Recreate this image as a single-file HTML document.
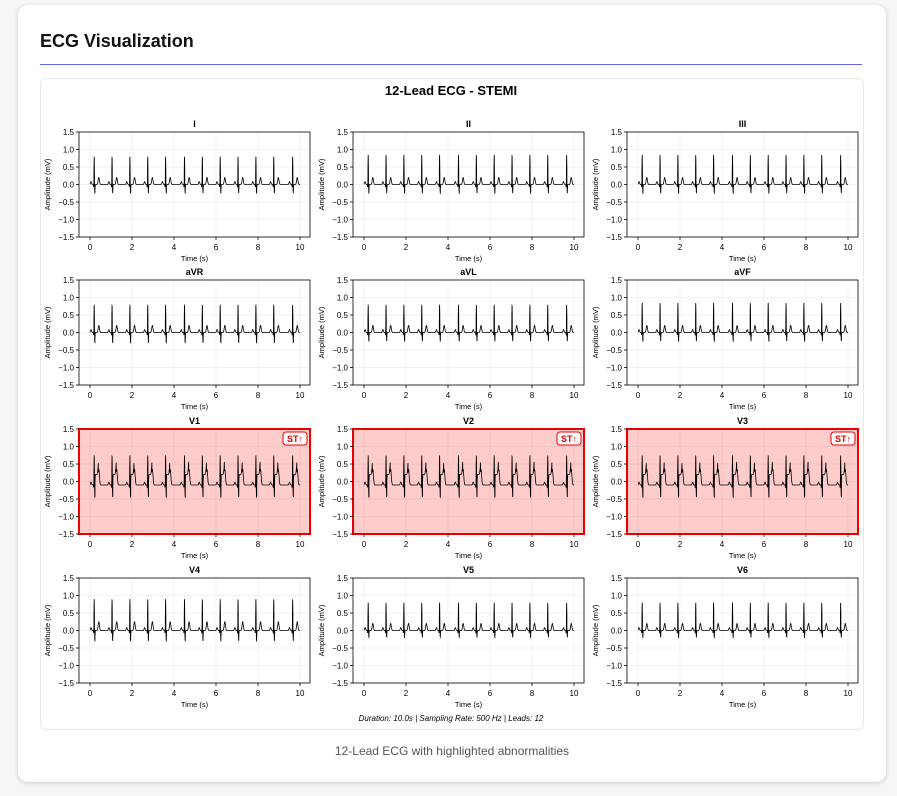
<!DOCTYPE html>
<html><head><meta charset="utf-8">
<style>
body{margin:0;background:#f5f5f6;font-family:"Liberation Sans",sans-serif;}
.card{position:absolute;left:18px;top:5px;width:868px;height:777px;background:#fff;border-radius:10px;box-shadow:0 1px 4px rgba(0,0,0,.18);}
h2{position:absolute;left:22px;top:26px;margin:0;font-size:18px;font-weight:bold;color:#111;}
.rule{position:absolute;left:22px;top:59px;width:822px;height:1px;background:#6366f1;}
.fig{position:absolute;left:22px;top:73px;width:822px;height:650px;border:1px solid #e5e7eb;border-radius:6px;background:#fff;}
.cap{position:absolute;left:0;width:868px;top:739px;text-align:center;font-size:12px;color:#555;}
</style></head><body>
<div class="card">
<h2>ECG Visualization</h2>
<div class="rule"></div>
<div class="fig"></div>
<div class="cap">12-Lead ECG with highlighted abnormalities</div>
</div>
<svg id="chart" width="897" height="796" style="position:absolute;left:0;top:0"></svg>
<script>
const leads=["I","II","III","aVR","aVL","aVF","V1","V2","V3","V4","V5","V6"];
const rAmp=[0.8,0.85,0.85,0.8,0.8,0.85,0.85,0.85,0.85,0.9,0.8,0.8];
const sAmp=[-0.25,-0.25,-0.25,-0.3,-0.25,-0.25,-0.35,-0.35,-0.35,-0.3,-0.2,-0.2];
const tAmp=[0.2,0.2,0.2,0.2,0.2,0.2,0.45,0.45,0.45,0.25,0.2,0.2];
const stElev=[0,0,0,0,0,0,0.3,0.3,0.3,0,0,0];
const baseline=[0,0,0,0,0,0,-0.1,-0.1,-0.1,0,0,0];
const abnormal=[false,false,false,false,false,false,true,true,true,false,false,false];
const beatTimes=[0.2,1.05,1.9,2.75,3.6,4.5,5.35,6.2,7.05,7.9,8.75,9.65];
const xTicks=[0,2,4,6,8,10];
const yTicks=[1.5,1.0,0.5,0.0,-0.5,-1.0,-1.5];
const yLabels=["1.5","1.0","0.5","0.0","\u22120.5","\u22121.0","\u22121.5"];

const NS="http://www.w3.org/2000/svg";
const svg=document.getElementById("chart");
function mk(tag,attrs,parent){const e=document.createElementNS(NS,tag);for(const k in attrs)e.setAttribute(k,attrs[k]);(parent||svg).appendChild(e);return e;}
const colX=[79,353,627],rowY=[132,280,429,578],W=231,H=105;
function g(x,c,w){return Math.exp(-((x-c)*(x-c))/(2*w*w));}
function sig(i,t){let v=baseline[i];for(const b of beatTimes){const d=t-b;if(d<-0.3||d>0.5)continue;
 v+=0.08*g(d,-0.15,0.025)-0.08*g(d,-0.025,0.008)+rAmp[i]*g(d,0,0.009)+sAmp[i]*g(d,0.03,0.01)+tAmp[i]*g(d,0.22,0.03);
 if(stElev[i]&&d>0.04&&d<0.2)v+=stElev[i];}
 return v;}
const t0=mk("text",{x:451,y:95,"text-anchor":"middle","font-size":13,"font-weight":"bold",fill:"#000"});


t0.textContent="12-Lead ECG - STEMI";
leads.forEach((name,i)=>{
 const x0=colX[i%3],y0=rowY[Math.floor(i/3)];
 const xs=v=>x0+11+v*21,ys=v=>y0+H/2-v*(H/3);
 const gr=mk("g",{});
 
 
 const bg=mk("rect",{x:x0,y:y0,width:W,height:H,fill:abnormal[i]?"#ffcccc":"#fff",stroke:abnormal[i]?"#e00":"#000","stroke-width":abnormal[i]?2:0.8},gr);
 
 
 xTicks.forEach(t=>{mk("line",{x1:xs(t),x2:xs(t),y1:y0,y2:y0+H,stroke:"#000","stroke-opacity":0.05},gr);
  mk("line",{x1:xs(t),x2:xs(t),y1:y0+H,y2:y0+H+3,stroke:"#000","stroke-width":0.8},gr);
  const l=mk("text",{x:xs(t),y:y0+H+13,"text-anchor":"middle","font-size":8,fill:"#000"},gr);
  
  
  l.textContent=t;});
 yTicks.forEach((t,k)=>{mk("line",{x1:x0,x2:x0+W,y1:ys(t),y2:ys(t),stroke:"#000","stroke-opacity":0.05},gr);
  mk("line",{x1:x0-3,x2:x0,y1:ys(t),y2:ys(t),stroke:"#000","stroke-width":0.8},gr);
  const l=mk("text",{x:x0-5,y:ys(t)+3,"text-anchor":"end","font-size":8,fill:"#000"},gr);
  
  
  l.textContent=yLabels[k];});
 let d="";for(let t=0;t<=10;t+=0.004){const v=sig(i,t);d+=(d?"L":"M")+xs(t).toFixed(1)+","+ys(v).toFixed(1);}
 const p=mk("path",{d:d,fill:"none",stroke:"#000","stroke-width":0.8},gr);
 
 
 const tt=mk("text",{x:x0+W/2,y:y0-5,"text-anchor":"middle","font-size":9,"font-weight":"bold",fill:"#000"},gr);
 
 
 tt.textContent=name;
 const xl=mk("text",{x:x0+W/2,y:y0+H+24,"text-anchor":"middle","font-size":7.5,fill:"#000"},gr);
 
 
 xl.textContent="Time (s)";
 const yl=mk("text",{x:0,y:0,"text-anchor":"middle","font-size":7.5,fill:"#000",transform:`translate(${x0-29},${y0+H/2}) rotate(-90)`},gr);
 
 
 yl.textContent="Amplitude (mV)";
 if(abnormal[i]){
  const b=mk("rect",{x:x0+W-27,y:y0+3,width:24,height:13,rx:3,fill:"#fff",stroke:"#e00","stroke-width":1},gr);
  
  
  const bt=mk("text",{x:x0+W-15,y:y0+13,"text-anchor":"middle","font-size":9,"font-weight":"bold",fill:"#e00"},gr);
  
  
  bt.textContent="ST\u2191";
 }
});
const f=mk("text",{x:451,y:721,"text-anchor":"middle","font-size":8,"font-style":"italic",fill:"#000"});


f.textContent="Duration: 10.0s | Sampling Rate: 500 Hz | Leads: 12";
</script>
</body></html>
